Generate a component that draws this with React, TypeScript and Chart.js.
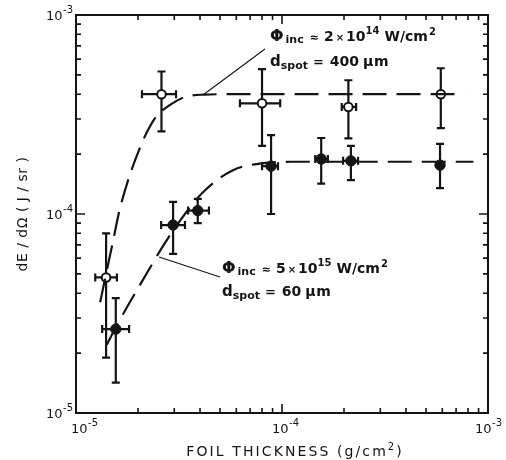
import React, { useEffect, useRef } from "react";
import { Chart, registerables } from "chart.js";

Chart.register(...registerables);

// Axis ranges (log-log)
const X_MIN = 1e-5;
const X_MAX = 1e-3;
const Y_MIN = 1e-5;
const Y_MAX = 1e-3;
const tickDecades = [-5, -4, -3];

// Φinc = 2×10^14 W/cm², d_spot = 400 µm (open circles)
const openX = [1.4e-5, 2.6e-5, 8.0e-5, 2.1e-4, 5.9e-4];
const openY = [4.8e-5, 4.0e-4, 3.6e-4, 3.45e-4, 4.0e-4];
const openYLo = [1.9e-5, 2.6e-4, 2.2e-4, 2.4e-4, 2.7e-4];
const openYHi = [8.0e-5, 5.2e-4, 5.35e-4, 4.7e-4, 5.4e-4];
const openXLo = [1.24e-5, 2.09e-5, 6.25e-5, 1.95e-4, null];
const openXHi = [1.58e-5, 3.06e-5, 9.8e-5, 2.29e-4, null];

// Φinc = 5×10^15 W/cm², d_spot = 60 µm (filled circles)
const fullX = [1.56e-5, 2.96e-5, 3.9e-5, 8.85e-5, 1.55e-4, 2.16e-4, 5.85e-4];
const fullY = [2.64e-5, 8.8e-5, 1.04e-4, 1.74e-4, 1.89e-4, 1.85e-4, 1.76e-4];
const fullYLo = [1.42e-5, 6.3e-5, 9.0e-5, 1.0e-4, 1.42e-4, 1.48e-4, 1.35e-4];
const fullYHi = [3.78e-5, 1.15e-4, 1.19e-4, 2.49e-4, 2.41e-4, 2.2e-4, 2.25e-4];
const fullXLo = [1.34e-5, 2.59e-5, 3.5e-5, 8.0e-5, 1.45e-4, 1.98e-4, null];
const fullXHi = [1.81e-5, 3.38e-5, 4.42e-5, 9.56e-5, 1.67e-4, 2.34e-4, null];

// Dashed guide curves
const upperCurveX = [1.31e-5, 1.37e-5, 1.5e-5, 1.64e-5, 2.05e-5, 2.44e-5, 2.77e-5, 3.38e-5, 4.2e-5, 5.5e-5, 7.7e-4];
const upperCurveY = [3.6e-5, 4.5e-5, 7.0e-5, 1.08e-4, 2.17e-4, 3.07e-4, 3.45e-4, 3.87e-4, 3.98e-4, 4.0e-4, 4.0e-4];
const lowerCurveX = [1.41e-5, 1.6e-5, 2.21e-5, 2.8e-5, 4.09e-5, 5.78e-5, 8.1e-5, 1.1e-4, 8.5e-4];
const lowerCurveY = [2.2e-5, 2.83e-5, 5.05e-5, 7.57e-5, 1.27e-4, 1.66e-4, 1.8e-4, 1.83e-4, 1.83e-4];

// Points on the curves where the annotation leader lines start
const upperLeaderX = 4.18e-5;
const upperLeaderY = 4.0e-4;
const lowerLeaderX = 2.53e-5;
const lowerLeaderY = 6.08e-5;

const INK = "#141414";
const FONT = "'DejaVu Sans', 'Liberation Sans', sans-serif";

const toPts = (xs: number[], ys: number[]) => xs.map((x, i) => ({ x, y: ys[i] }));

type Seg = { t: string; size: number; dy?: number; gap?: number; ls?: number; w?: string };

function setFont(ctx: CanvasRenderingContext2D, s: Seg) {
  ctx.font = `${s.w ?? "bold"} ${s.size}px ${FONT}`;
  (ctx as any).letterSpacing = `${s.ls ?? 0}px`;
}

function richWidth(ctx: CanvasRenderingContext2D, segs: Seg[]) {
  let w = 0;
  for (const s of segs) {
    setFont(ctx, s);
    w += ctx.measureText(s.t).width + (s.gap ?? 0);
  }
  (ctx as any).letterSpacing = "0px";
  return w;
}

function drawRich(ctx: CanvasRenderingContext2D, x: number, y: number, segs: Seg[]) {
  let cx = x;
  ctx.textAlign = "left";
  ctx.textBaseline = "alphabetic";
  for (const s of segs) {
    setFont(ctx, s);
    ctx.fillText(s.t, cx, y + (s.dy ?? 0));
    cx += ctx.measureText(s.t).width + (s.gap ?? 0);
  }
  (ctx as any).letterSpacing = "0px";
  return cx;
}

function drawErrorBars(
  ctx: CanvasRenderingContext2D,
  xs: number[], ys: number[],
  xLo: (number | null)[], xHi: (number | null)[],
  yLo: (number | null)[], yHi: (number | null)[],
  xScale: any, yScale: any
) {
  const cap = 4;
  ctx.strokeStyle = INK;
  ctx.lineWidth = 2.2;
  ctx.lineCap = "butt";
  for (let i = 0; i < xs.length; i++) {
    const px = xScale.getPixelForValue(xs[i]);
    const py = yScale.getPixelForValue(ys[i]);
    const lo = yLo[i], hi = yHi[i];
    if (lo != null && hi != null) {
      const a = yScale.getPixelForValue(lo);
      const b = yScale.getPixelForValue(hi);
      ctx.beginPath();
      ctx.moveTo(px, a); ctx.lineTo(px, b);
      ctx.moveTo(px - cap, a); ctx.lineTo(px + cap, a);
      ctx.moveTo(px - cap, b); ctx.lineTo(px + cap, b);
      ctx.stroke();
    }
    const l = xLo[i], r = xHi[i];
    if (l != null && r != null) {
      const a = xScale.getPixelForValue(l);
      const b = xScale.getPixelForValue(r);
      ctx.beginPath();
      ctx.moveTo(a, py); ctx.lineTo(b, py);
      ctx.moveTo(a, py - cap); ctx.lineTo(a, py + cap);
      ctx.moveTo(b, py - cap); ctx.lineTo(b, py + cap);
      ctx.stroke();
    }
  }
}

// horizontal shift of each x-axis decade label, so the last one stays on the canvas
const xLabelShift = [-5, -10, -13];

const framePlugin = {
  id: "frame",
  beforeDatasetsDraw(chart: any) {
    const ctx: CanvasRenderingContext2D = chart.ctx;
    const xs = chart.scales.x;
    const ys = chart.scales.y;
    ctx.save();
    drawErrorBars(ctx, openX, openY, openXLo, openXHi, openYLo, openYHi, xs, ys);
    drawErrorBars(ctx, fullX, fullY, fullXLo, fullXHi, fullYLo, fullYHi, xs, ys);
    ctx.restore();
  },
  afterDraw(chart: any) {
    const ctx: CanvasRenderingContext2D = chart.ctx;
    const { left, right, top, bottom } = chart.chartArea;
    const xs = chart.scales.x;
    const ys = chart.scales.y;
    ctx.save();
    ctx.strokeStyle = INK;
    ctx.fillStyle = INK;

    // frame
    ctx.lineWidth = 2;
    ctx.strokeRect(left, top, right - left, bottom - top);

    // inward ticks on all four sides
    ctx.lineWidth = 1.6;
    ctx.beginPath();
    for (const d of tickDecades) {
      for (let m = 1; m <= 9; m++) {
        const v = m * Math.pow(10, d);
        const len = m === 1 ? 9 : 5;
        if (v >= X_MIN * 0.999 && v <= X_MAX * 1.001) {
          const px = xs.getPixelForValue(v);
          ctx.moveTo(px, bottom); ctx.lineTo(px, bottom - len);
          ctx.moveTo(px, top); ctx.lineTo(px, top + len);
        }
        if (v >= Y_MIN * 0.999 && v <= Y_MAX * 1.001) {
          const py = ys.getPixelForValue(v);
          ctx.moveTo(left, py); ctx.lineTo(left + len, py);
          ctx.moveTo(right, py); ctx.lineTo(right - len, py);
        }
      }
    }
    ctx.stroke();

    // tick labels 10^n
    tickDecades.forEach((d, k) => {
      const v = Math.pow(10, d);
      const segs: Seg[] = [
        { t: "10", size: 13, gap: 0.5, w: "normal" },
        { t: `-${-d}`, size: 10, dy: -7, w: "normal" },
      ];
      const px = xs.getPixelForValue(v);
      drawRich(ctx, px + xLabelShift[k], bottom + 20, segs);
      const py = ys.getPixelForValue(v);
      const w = richWidth(ctx, segs);
      drawRich(ctx, left - 3 - w, py + 5, segs);
    });

    // axis titles
    const xSegs: Seg[] = [
      { t: "FOIL THICKNESS (g/cm", size: 14, ls: 2.1, w: "normal" },
      { t: "2", size: 10, dy: -6, gap: 2, w: "normal" },
      { t: ")", size: 14, w: "normal" },
    ];
    const xw = richWidth(ctx, xSegs);
    drawRich(ctx, 294 - xw / 2, 456, xSegs);

    ctx.save();
    ctx.translate(27, 214);
    ctx.rotate(-Math.PI / 2);
    const ySegs: Seg[] = [{ t: "dE / dΩ ( J / sr )", size: 14, ls: 0.5, w: "normal" }];
    const yw = richWidth(ctx, ySegs);
    drawRich(ctx, -yw / 2, 0, ySegs);
    ctx.restore();

    // leader lines
    ctx.lineWidth = 1.1;
    ctx.beginPath();
    ctx.moveTo(xs.getPixelForValue(upperLeaderX), ys.getPixelForValue(upperLeaderY));
    ctx.lineTo(265, 49);
    ctx.moveTo(xs.getPixelForValue(lowerLeaderX), ys.getPixelForValue(lowerLeaderY));
    ctx.lineTo(220, 277);
    ctx.stroke();

    // annotations
    const phiLine = (exp: string, mant: string): Seg[] => [
      { t: "Φ", size: 16, gap: 2 },
      { t: "inc", size: 11, dy: 2, gap: 6 },
      { t: "≈", size: 11, gap: 5 },
      { t: mant, size: 14, gap: 2 },
      { t: "×", size: 10, gap: 2 },
      { t: "10", size: 14, gap: 0 },
      { t: exp, size: 10, dy: -7, gap: 5 },
      { t: "W/cm", size: 14, gap: 1 },
      { t: "2", size: 10, dy: -6 },
    ];
    const spotLine = (v: string): Seg[] => [
      { t: "d", size: 15, gap: 0 },
      { t: "spot", size: 11, dy: 3, gap: 5 },
      { t: "=", size: 13, gap: 6 },
      { t: v, size: 14, gap: 4 },
      { t: "µm", size: 14, ls: 0.5 },
    ];
    drawRich(ctx, 270, 41, phiLine("14", "2"));
    drawRich(ctx, 270, 66, spotLine("400"));
    drawRich(ctx, 222, 273, phiLine("15", "5"));
    drawRich(ctx, 222, 296, spotLine("60"));

    ctx.restore();
  },
};

export default function App() {
  const ref = useRef<HTMLCanvasElement | null>(null);

  useEffect(() => {
    if (!ref.current) return;
    const dashed = {
      showLine: true,
      borderColor: INK,
      borderWidth: 2.2,
      borderDash: [24, 10],
      pointRadius: 0,
      cubicInterpolationMode: "monotone" as const,
      fill: false,
    };
    const chart = new Chart(ref.current, {
      type: "scatter",
      data: {
        datasets: [
          { ...dashed, data: toPts(upperCurveX, upperCurveY) },
          { ...dashed, data: toPts(lowerCurveX, lowerCurveY) },
          {
            data: toPts(openX, openY),
            showLine: false,
            pointRadius: 4.3,
            pointBorderWidth: 2,
            pointBackgroundColor: "#ffffff",
            pointBorderColor: INK,
          },
          {
            data: toPts(fullX, fullY),
            showLine: false,
            pointRadius: 5.2,
            pointBorderWidth: 1,
            pointBackgroundColor: INK,
            pointBorderColor: INK,
          },
        ],
      },
      options: {
        responsive: false,
        animation: false,
        events: [],
        layout: { padding: { left: 76, right: 18, top: 15, bottom: 47 } },
        scales: {
          x: { type: "logarithmic", min: X_MIN, max: X_MAX, display: false },
          y: { type: "logarithmic", min: Y_MIN, max: Y_MAX, display: false },
        },
        plugins: {
          legend: { display: false },
          tooltip: { enabled: false },
        },
      },
      plugins: [framePlugin],
    });
    return () => chart.destroy();
  }, []);

  return (
    <div style={{ position: "absolute", left: 0, top: 0, width: 506, height: 460, background: "#fff" }}>
      <canvas ref={ref} width={506} height={460} style={{ width: 506, height: 460, display: "block" }} />
    </div>
  );
}
